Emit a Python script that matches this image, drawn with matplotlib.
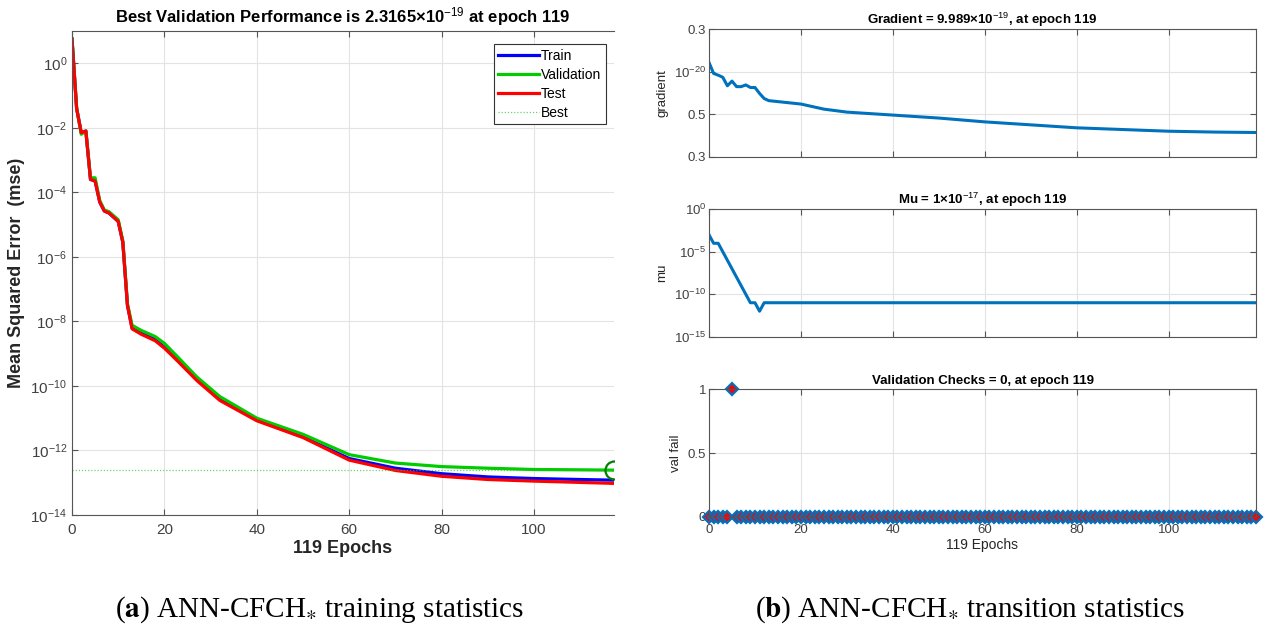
import matplotlib
matplotlib.use("Agg")
import matplotlib.pyplot as plt
from matplotlib.ticker import FixedLocator, NullLocator

plt.rcParams['font.family'] = ['Liberation Sans', 'DejaVu Sans']
plt.rcParams['mathtext.fontset'] = 'custom'
plt.rcParams['mathtext.rm'] = 'Liberation Sans'
plt.rcParams['mathtext.bf'] = 'Liberation Sans:bold'
plt.rcParams['mathtext.it'] = 'Liberation Sans:italic'

# ---- data ----
# performance (left): epoch and log10(mse)
perf_epoch = [0, 1, 2, 3, 4, 5, 6, 7, 8, 10, 11, 12, 13, 15, 18, 20, 23, 27, 32, 40,
              50, 60, 70, 80, 90, 100, 110, 117.3]
train_log = [0.75, -1.4, -2.15, -2.1, -3.6, -3.65, -4.3, -4.58, -4.64, -4.9, -5.55, -7.5,
             -8.2, -8.36, -8.56, -8.8, -9.22, -9.8, -10.42, -11.05,
             -11.58, -12.25, -12.55, -12.72, -12.82, -12.87, -12.9, -12.92]
val_log = [0.75, -1.38, -2.2, -2.1, -3.55, -3.55, -4.25, -4.55, -4.6, -4.85, -5.5, -7.45,
           -8.12, -8.28, -8.47, -8.68, -9.12, -9.72, -10.33, -11.0,
           -11.5, -12.13, -12.39, -12.5, -12.55, -12.59, -12.6, -12.61]
test_log = [0.75, -1.4, -2.15, -2.1, -3.6, -3.65, -4.3, -4.58, -4.64, -4.9, -5.55, -7.5,
            -8.23, -8.4, -8.6, -8.83, -9.25, -9.83, -10.45, -11.08,
            -11.6, -12.3, -12.62, -12.8, -12.9, -12.95, -12.99, -13.02]
best_epoch = 117.3
best_log = -12.61

# gradient (right top), in tick-slot units 0..3
grad_epoch = [0, 1, 2, 3, 4, 5, 6, 7, 8, 9, 10, 11, 12, 13, 20, 25, 30, 40, 50, 60,
              70, 80, 90, 100, 110, 119]
grad_val = [2.22, 1.96, 1.92, 1.87, 1.67, 1.78, 1.65, 1.65, 1.69, 1.63, 1.63, 1.49, 1.37,
            1.32, 1.24, 1.12, 1.05, 0.98, 0.91, 0.82, 0.75, 0.68, 0.64, 0.60, 0.58, 0.57]
grad_ticklabels = ['0.3', '0.5', '$10^{-20}$', '0.3']

# mu (right middle)
mu_epoch = [0, 1, 2, 3, 4, 5, 6, 7, 8, 9, 10, 11, 12, 119]
mu_val = [1e-3, 1e-4, 1e-4, 1e-5, 1e-6, 1e-7, 1e-8, 1e-9, 1e-10, 1e-11, 1e-11, 1e-12,
          1e-11, 1e-11]

# validation checks (right bottom)
vf_epoch = list(range(120))
vf_val = [0, 0, 0, 0, 0, 1] + [0] * 114

tick_col = '#404040'
spine_col = '#555555'
mblue = '#0072BD'


def matlab_axes(ax):
    for s in ax.spines.values():
        s.set_color(spine_col)
        s.set_linewidth(0.8)
    ax.tick_params(direction='in', top=True, right=True, colors=spine_col,
                   labelcolor=tick_col, length=4, width=0.8)
    ax.grid(True, color='#e3e3e3', lw=0.8)
    ax.set_axisbelow(True)


fig = plt.figure(figsize=(12.71, 6.35), dpi=100)

# ---------------- left: performance ----------------
ax = fig.add_axes([72 / 1271, 1 - 515 / 635, 542 / 1271, 484 / 635])
matlab_axes(ax)
ax.spines['right'].set_visible(False)
ax.tick_params(right=False)
ax.plot(perf_epoch, [10 ** v for v in train_log], color='#0000ff', lw=2.3, label='Train')
ax.plot(perf_epoch, [10 ** v for v in val_log], color='#00cc00', lw=2.3, label='Validation')
ax.plot(perf_epoch, [10 ** v for v in test_log], color='#ff0000', lw=2.3, label='Test')
ax.plot([0, best_epoch], [10 ** best_log, 10 ** best_log], color='#33bb33', lw=0.9,
        ls=(0, (1, 1.5)), alpha=0.7, label='Best')
ax.plot([best_epoch], [10 ** best_log], 'o', ms=13, mfc='none', mec='#008000', mew=1.6)
ax.set_yscale('log')
ax.set_xlim(0, 117.3)
ax.set_ylim(1e-14, 10)
ax.yaxis.set_major_locator(FixedLocator([10.0 ** k for k in range(-14, 1, 2)]))
ax.yaxis.set_minor_locator(NullLocator())
ax.set_xticks([0, 20, 40, 60, 80, 100])
ax.tick_params(labelsize=11)
ax.tick_params(axis='x', pad=6)
ax.set_title('Best Validation Performance is 2.3165×10$^{-19}$ at epoch 119',
             fontsize=12, fontweight='bold', pad=6)
ax.set_xlabel('119 Epochs', fontsize=13, fontweight='bold', color='#262626', labelpad=2)
ax.set_ylabel('Mean Squared Error  (mse)', fontsize=13, fontweight='bold', color='#262626')
leg = ax.legend(loc='upper right', bbox_to_anchor=(0.985, 0.973), borderaxespad=0,
                fancybox=False, fontsize=10, handlelength=2.9, handletextpad=0.15,
                labelspacing=0.35, borderpad=0.35, framealpha=1)
leg.get_frame().set_edgecolor('#333333')
leg.get_frame().set_linewidth(0.8)

# ---------------- right: training state ----------------
rl, rw, rh = 709 / 1271, 547 / 1271, 127.4 / 635

a1 = fig.add_axes([rl, 1 - 156.7 / 635, rw, rh])
matlab_axes(a1)
a1.plot(grad_epoch, grad_val, color=mblue, lw=2.2)
a1.set_xlim(0, 119)
a1.set_ylim(0, 3)
a1.set_yticks([0, 1, 2, 3])
a1.set_yticklabels(grad_ticklabels)
a1.set_xticks([0, 20, 40, 60, 80, 100])
a1.set_xticklabels([])
a1.set_ylabel('gradient', fontsize=9.5, color='#262626')
a1.set_title('Gradient = 9.989×10$^{-19}$, at epoch 119', fontsize=9.5,
             fontweight='bold', pad=4)

a2 = fig.add_axes([rl, 1 - 336.7 / 635, rw, rh])
matlab_axes(a2)
a2.plot(mu_epoch, mu_val, color=mblue, lw=2.2)
a2.set_yscale('log')
a2.set_xlim(0, 119)
a2.set_ylim(1e-15, 1)
a2.yaxis.set_major_locator(FixedLocator([1e-15, 1e-10, 1e-5, 1]))
a2.yaxis.set_minor_locator(NullLocator())
a2.set_xticks([0, 20, 40, 60, 80, 100])
a2.set_xticklabels([])
a2.set_ylabel('mu', fontsize=9.5, color='#262626')
a2.set_title('Mu = 1×10$^{-17}$, at epoch 119', fontsize=9.5, fontweight='bold', pad=4)

a3 = fig.add_axes([rl, 1 - 516.7 / 635, rw, rh])
matlab_axes(a3)
a3.plot(vf_epoch, vf_val, ls='none', marker='D', ms=6, mfc='#ff0000', mec=mblue,
        mew=1.6, clip_on=False)
a3.set_xlim(0, 119)
a3.set_ylim(0, 1)
a3.set_yticks([0, 0.5, 1])
a3.set_yticklabels(['0', '0.5', '1'])
a3.set_xticks([0, 20, 40, 60, 80, 100])
a3.set_ylabel('val fail', fontsize=9.5, color='#262626')
a3.set_title('Validation Checks = 0, at epoch 119', fontsize=9.5, fontweight='bold', pad=4)

for a in (a1, a2, a3):
    a.tick_params(labelsize=9.5, pad=2)
a3.tick_params(axis='x', pad=5)
a3.set_xlabel('119 Epochs', fontsize=10, color='#262626', labelpad=2)

# ---------------- captions ----------------
fig.text(320 / 1271, 1 - 610 / 635, r'($\mathbf{a}$) ANN-CFCH$_{\ast}$ training statistics',
         ha='center', va='center', fontsize=21, family='Liberation Serif',
         math_fontfamily='stix')
fig.text(970 / 1271, 1 - 610 / 635, r'($\mathbf{b}$) ANN-CFCH$_{\ast}$ transition statistics',
         ha='center', va='center', fontsize=21, family='Liberation Serif',
         math_fontfamily='stix')

fig.savefig('out.png', dpi=100, facecolor='white')
